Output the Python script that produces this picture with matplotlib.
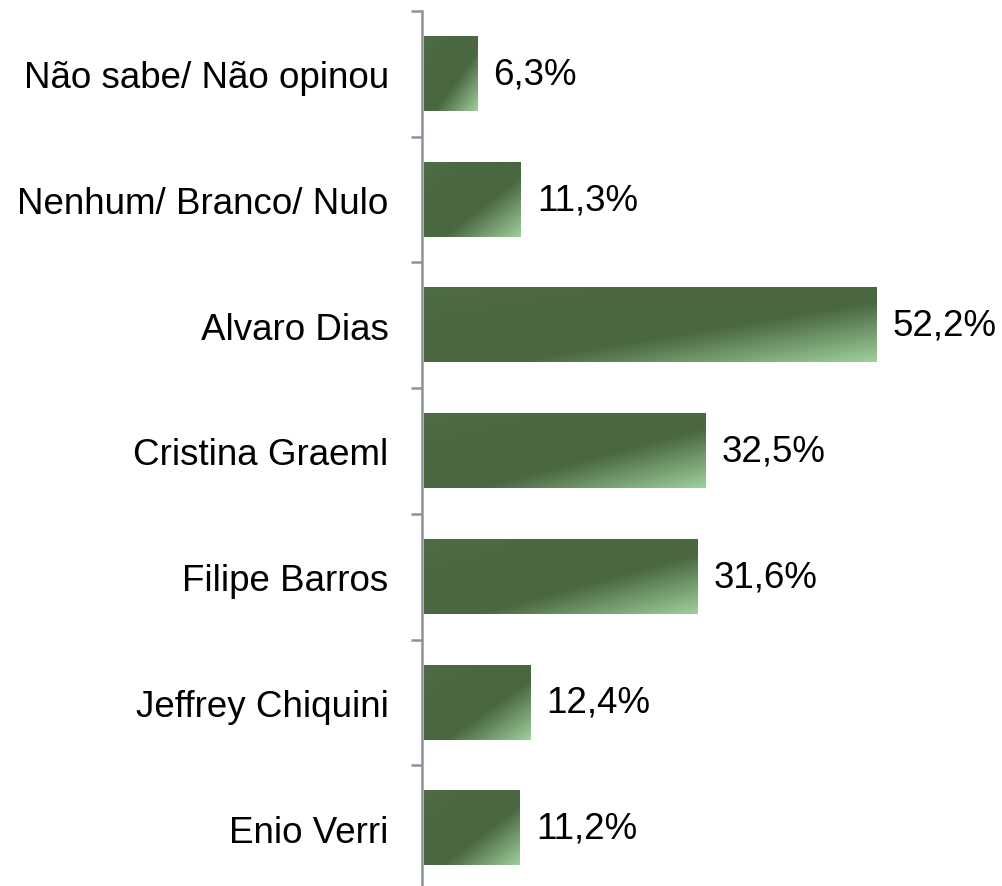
import numpy as np
import matplotlib.pyplot as plt
from matplotlib.colors import LinearSegmentedColormap

categories = ["Não sabe/ Não opinou", "Nenhum/ Branco/ Nulo", "Alvaro Dias",
              "Cristina Graeml", "Filipe Barros", "Jeffrey Chiquini", "Enio Verri"]
values = [6.3, 11.3, 52.2, 32.5, 31.6, 12.4, 11.2]
labels = ["6,3%", "11,3%", "52,2%", "32,5%", "31,6%", "12,4%", "11,2%"]

plt.rcParams['font.family'] = ['Liberation Sans', 'DejaVu Sans']

fig = plt.figure(figsize=(10.02, 8.87), dpi=100)
# eixo vai um pouco além da borda inferior
ax = fig.add_axes([422 / 1002, -5 / 887, 1 - 422 / 1002, 880 / 887])

# gradiente diagonal dentro de cada barra
cmap = LinearSegmentedColormap.from_list(
    "verde", [(0.0, "#4e6c46"), (0.3, "#4a6741"), (0.6, "#4a6741"), (1.0, "#9ed09c")])
u = np.linspace(0, 1, 200)
v = np.linspace(0, 1, 200)
U, V = np.meshgrid(u, v)
grad = (U + V) / 2

n = len(categories)
ypos = np.arange(n)[::-1]
h = 0.59
for y, val, lab in zip(ypos, values, labels):
    ax.imshow(grad, cmap=cmap, vmin=0, vmax=1, aspect='auto', origin='upper',
              extent=(0.2, val, y - h / 2, y + h / 2), interpolation='bilinear', zorder=2)
    ax.text(val + 1.9, y, lab, va='center', ha='left', fontsize=26.5, color='black')

ax.set_xlim(0, (1002 - 422) / 8.7)
ax.set_ylim(-0.5, n - 0.5)
ax.set_yticks(ypos)
ax.set_yticklabels(categories, fontsize=26.5)
ax.set_yticks(np.arange(-0.5, n, 1.0), minor=True)
ax.tick_params(axis='y', which='major', length=0, pad=24)
ax.tick_params(axis='y', which='minor', length=8, width=1.8, color='#8b929b')
ax.set_xticks([])
for s in ['top', 'right', 'bottom']:
    ax.spines[s].set_visible(False)
ax.spines['left'].set_color('#8b929b')
ax.spines['left'].set_linewidth(1.8)

fig.savefig("out.png", dpi=100)
